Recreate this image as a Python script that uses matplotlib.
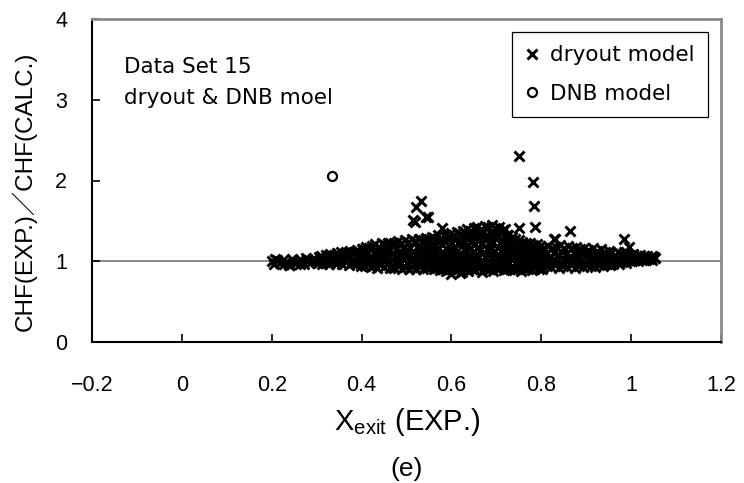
import matplotlib
matplotlib.use("Agg")
import matplotlib.pyplot as plt

plt.rcParams['font.family'] = ['Liberation Sans', 'Noto Sans CJK JP', 'DejaVu Sans']
plt.rcParams['mathtext.fontset'] = 'custom'
plt.rcParams['mathtext.rm'] = 'Liberation Sans'

# ---- data ----
dryout_x = (
    [0.200, 0.205, 0.208, 0.212, 0.218, 0.225, 0.228, 0.232, 0.238, 0.245, 0.252, 0.258, 0.262, 0.265, 0.272, 0.276, 0.280, 0.287, 0.293, 0.296, 0.300]
    + [0.305, 0.310, 0.315, 0.320, 0.325, 0.330, 0.335, 0.340, 0.345, 0.350, 0.355, 0.360, 0.365, 0.370, 0.375, 0.380, 0.385, 0.390, 0.395, 0.400]
    + [0.303, 0.312, 0.318, 0.327, 0.333, 0.342, 0.348, 0.357, 0.363, 0.372, 0.378, 0.387, 0.393, 0.398]
    + [0.308, 0.322, 0.338, 0.352, 0.368, 0.382, 0.396]
    + [0.403, 0.410, 0.417, 0.424, 0.431, 0.438, 0.445, 0.452, 0.459, 0.466]
    + [0.406, 0.413, 0.420, 0.427, 0.434, 0.441, 0.448, 0.455, 0.462, 0.469]
    + [0.404, 0.411, 0.418, 0.425, 0.432, 0.439, 0.446, 0.453, 0.460, 0.467]
    + [0.407, 0.414, 0.421, 0.428, 0.435, 0.442, 0.449, 0.456, 0.463, 0.470]
    + [0.472, 0.480, 0.488, 0.496, 0.504, 0.512, 0.520, 0.528, 0.536, 0.544, 0.550]
    + [0.476, 0.484, 0.492, 0.500, 0.508, 0.516, 0.524, 0.532, 0.540, 0.547, 0.553]
    + [0.474, 0.482, 0.490, 0.498, 0.506, 0.514, 0.522, 0.530, 0.538, 0.545, 0.551]
    + [0.478, 0.486, 0.494, 0.502, 0.510, 0.518, 0.526, 0.534, 0.542, 0.548, 0.554]
    + [0.473, 0.481, 0.489, 0.497, 0.505, 0.513, 0.521, 0.529, 0.537, 0.546, 0.552]
    + [0.556, 0.563, 0.570, 0.577, 0.584, 0.591, 0.598, 0.605, 0.612, 0.619]
    + [0.559, 0.566, 0.573, 0.580, 0.587, 0.594, 0.601, 0.608, 0.615, 0.622]
    + [0.557, 0.564, 0.571, 0.578, 0.585, 0.592, 0.599, 0.606, 0.613, 0.620]
    + [0.560, 0.567, 0.574, 0.581, 0.588, 0.595, 0.602, 0.609, 0.616, 0.623]
    + [0.558, 0.565, 0.572, 0.579, 0.586, 0.593, 0.600, 0.607, 0.614, 0.621]
    + [0.561, 0.568, 0.575, 0.582, 0.589, 0.596, 0.603, 0.610, 0.617, 0.624]
    + [0.626, 0.634, 0.642, 0.650, 0.658, 0.666, 0.674, 0.682, 0.690, 0.698, 0.706, 0.714, 0.720]
    + [0.630, 0.638, 0.646, 0.654, 0.662, 0.670, 0.678, 0.686, 0.694, 0.702, 0.710, 0.717, 0.723]
    + [0.628, 0.636, 0.644, 0.652, 0.660, 0.668, 0.676, 0.684, 0.692, 0.700, 0.708, 0.715, 0.721]
    + [0.632, 0.640, 0.648, 0.656, 0.664, 0.672, 0.680, 0.688, 0.696, 0.704, 0.712, 0.718, 0.724]
    + [0.627, 0.635, 0.643, 0.651, 0.659, 0.667, 0.675, 0.683, 0.691, 0.699, 0.707, 0.716, 0.722]
    + [0.631, 0.639, 0.647, 0.655, 0.663, 0.671, 0.679, 0.687, 0.695, 0.703, 0.711, 0.719, 0.725]
    + [0.629, 0.637, 0.645, 0.653, 0.661, 0.669, 0.677, 0.685, 0.693, 0.701, 0.709, 0.717, 0.723]
    + [0.726, 0.734, 0.742, 0.750, 0.758, 0.766, 0.774, 0.782, 0.790, 0.798]
    + [0.730, 0.738, 0.746, 0.754, 0.762, 0.770, 0.778, 0.786, 0.794, 0.802]
    + [0.728, 0.736, 0.744, 0.752, 0.760, 0.768, 0.776, 0.784, 0.792, 0.800]
    + [0.732, 0.740, 0.748, 0.756, 0.764, 0.772, 0.780, 0.788, 0.796, 0.803]
    + [0.727, 0.735, 0.743, 0.751, 0.759, 0.767, 0.775, 0.783, 0.791, 0.799]
    + [0.731, 0.739, 0.747, 0.755, 0.763, 0.771, 0.779, 0.787, 0.795, 0.801]
    + [0.806, 0.815, 0.824, 0.833, 0.842, 0.851, 0.860, 0.869, 0.878, 0.887, 0.896, 0.905, 0.914, 0.923, 0.932, 0.941, 0.950]
    + [0.810, 0.819, 0.828, 0.837, 0.846, 0.855, 0.864, 0.873, 0.882, 0.891, 0.900, 0.909, 0.918, 0.927, 0.936, 0.945, 0.953]
    + [0.808, 0.817, 0.826, 0.835, 0.844, 0.853, 0.862, 0.871, 0.880, 0.889, 0.898, 0.907, 0.916, 0.925, 0.934, 0.943, 0.951]
    + [0.812, 0.821, 0.830, 0.839, 0.848, 0.857, 0.866, 0.875, 0.884, 0.893, 0.902, 0.911, 0.920, 0.929, 0.938, 0.947, 0.954]
    + [0.956, 0.963, 0.970, 0.977, 0.984, 0.991, 0.998, 1.005, 1.012, 1.020, 1.028, 1.036, 1.044, 1.050]
    + [0.959, 0.966, 0.973, 0.980, 0.987, 0.994, 1.001, 1.008, 1.016, 1.024, 1.032, 1.040, 1.047, 1.052]
    + [0.960, 0.974, 0.988]
    + [0.750, 0.782, 0.784, 0.786, 0.751, 0.533, 0.521, 0.518, 0.547, 0.544, 0.515, 0.580,
       0.831, 0.864, 0.828, 0.984, 0.996, 1.047, 1.030, 0.240, 0.620, 0.600]
)
dryout_y = (
    [1.00, 0.97, 1.03, 1.02, 0.98, 1.01, 0.96, 0.99, 0.95, 1.03, 0.98, 1.00, 0.96, 1.02, 0.97, 1.04, 1.01, 0.99, 1.03, 1.00, 0.98]
    + [1.05, 1.07, 1.04, 1.08, 1.06, 1.09, 1.05, 1.07, 1.10, 1.06, 1.12, 1.08, 1.11, 1.09, 1.13, 1.10, 1.12, 1.14, 1.11, 1.15]
    + [0.98, 0.96, 0.99, 0.97, 1.00, 0.96, 0.99, 0.97, 1.00, 0.95, 0.98, 0.96, 0.99, 0.94]
    + [1.01, 1.02, 1.03, 1.01, 1.04, 1.02, 1.05]
    + [1.15, 1.18, 1.16, 1.19, 1.21, 1.18, 1.22, 1.20, 1.23, 1.21]
    + [1.08, 1.10, 1.07, 1.11, 1.09, 1.12, 1.08, 1.11, 1.13, 1.10]
    + [1.01, 0.99, 1.03, 1.00, 1.02, 0.98, 1.01, 1.03, 0.99, 1.02]
    + [0.94, 0.96, 0.93, 0.95, 0.92, 0.95, 0.93, 0.96, 0.92, 0.94]
    + [1.22, 1.25, 1.23, 1.26, 1.24, 1.27, 1.25, 1.28, 1.26, 1.29, 1.27]
    + [1.15, 1.13, 1.17, 1.14, 1.16, 1.12, 1.18, 1.15, 1.17, 1.14, 1.19]
    + [1.06, 1.08, 1.05, 1.09, 1.07, 1.04, 1.08, 1.06, 1.10, 1.07, 1.05]
    + [0.99, 0.97, 1.01, 0.98, 1.00, 0.96, 1.02, 0.99, 0.97, 1.01, 0.98]
    + [0.92, 0.94, 0.91, 0.93, 0.90, 0.93, 0.91, 0.94, 0.90, 0.92, 0.93]
    + [1.30, 1.28, 1.32, 1.29, 1.33, 1.31, 1.35, 1.32, 1.36, 1.34]
    + [1.22, 1.20, 1.24, 1.21, 1.25, 1.19, 1.23, 1.26, 1.22, 1.24]
    + [1.13, 1.10, 1.15, 1.12, 1.09, 1.14, 1.11, 1.16, 1.13, 1.10]
    + [1.04, 1.06, 1.02, 1.05, 1.03, 1.07, 1.01, 1.04, 1.06, 1.02]
    + [0.97, 0.95, 0.98, 0.94, 0.96, 0.99, 0.95, 0.97, 0.93, 0.96]
    + [0.90, 0.92, 0.89, 0.91, 0.88, 0.90, 0.92, 0.89, 0.91, 0.87]
    + [1.38, 1.40, 1.37, 1.41, 1.43, 1.40, 1.44, 1.42, 1.45, 1.41, 1.43, 1.39, 1.40]
    + [1.30, 1.33, 1.31, 1.34, 1.32, 1.35, 1.33, 1.36, 1.34, 1.32, 1.35, 1.31, 1.33]
    + [1.22, 1.20, 1.24, 1.21, 1.25, 1.23, 1.26, 1.22, 1.24, 1.27, 1.23, 1.25, 1.22]
    + [1.13, 1.15, 1.12, 1.16, 1.14, 1.11, 1.15, 1.17, 1.13, 1.16, 1.14, 1.12, 1.15]
    + [1.05, 1.03, 1.07, 1.04, 1.06, 1.02, 1.05, 1.08, 1.04, 1.06, 1.03, 1.07, 1.05]
    + [0.97, 0.99, 0.96, 0.98, 0.95, 0.99, 0.97, 0.96, 0.98, 0.95, 0.97, 0.99, 0.96]
    + [0.90, 0.88, 0.91, 0.89, 0.92, 0.87, 0.90, 0.91, 0.88, 0.90, 0.92, 0.89, 0.91]
    + [1.32, 1.30, 1.28, 1.26, 1.24, 1.23, 1.22, 1.20, 1.21, 1.19]
    + [1.22, 1.20, 1.18, 1.19, 1.16, 1.15, 1.17, 1.14, 1.13, 1.15]
    + [1.12, 1.10, 1.11, 1.09, 1.08, 1.10, 1.07, 1.09, 1.06, 1.08]
    + [1.03, 1.05, 1.02, 1.04, 1.01, 1.03, 1.00, 1.02, 1.04, 1.01]
    + [0.96, 0.94, 0.97, 0.95, 0.98, 0.94, 0.96, 0.93, 0.97, 0.95]
    + [0.90, 0.89, 0.91, 0.88, 0.90, 0.91, 0.89, 0.92, 0.90, 0.91]
    + [1.17, 1.19, 1.16, 1.18, 1.20, 1.17, 1.19, 1.16, 1.18, 1.15, 1.17, 1.14, 1.16, 1.13, 1.15, 1.12, 1.13]
    + [1.09, 1.07, 1.10, 1.08, 1.11, 1.09, 1.07, 1.10, 1.08, 1.09, 1.06, 1.08, 1.07, 1.05, 1.07, 1.06, 1.04]
    + [1.01, 0.99, 1.02, 1.00, 0.98, 1.01, 1.03, 0.99, 1.01, 1.00, 0.98, 1.02, 0.99, 1.01, 1.00, 0.98, 1.00]
    + [0.94, 0.93, 0.95, 0.92, 0.94, 0.93, 0.95, 0.92, 0.94, 0.93, 0.95, 0.94, 0.93, 0.95, 0.94, 0.96, 0.95]
    + [1.10, 1.08, 1.11, 1.09, 1.12, 1.10, 1.08, 1.09, 1.07, 1.08, 1.06, 1.07, 1.05, 1.05]
    + [1.02, 1.00, 1.03, 0.99, 1.01, 1.02, 1.00, 1.01, 1.00, 1.02, 1.01, 1.03, 1.02, 1.04]
    + [0.96, 0.97, 0.98]
    + [2.30, 1.98, 1.69, 1.42, 1.41, 1.74, 1.67, 1.49, 1.55, 1.55, 1.51, 1.41,
       1.28, 1.38, 1.27, 1.28, 1.18, 1.06, 1.03, 0.95, 0.85, 0.84]
)
dnb_x = [0.335]
dnb_y = [2.06]

x_ticks = [-0.2, 0, 0.2, 0.4, 0.6, 0.8, 1, 1.2]
x_tick_labels = ['−0.2', '0', '0.2', '0.4', '0.6', '0.8', '1', '1.2']
y_ticks = [0, 1, 2, 3, 4]
y_tick_labels = ['0', '1', '2', '3', '4']

assert len(dryout_x) == len(dryout_y)

W, H = 744, 483
fig = plt.figure(figsize=(W / 100, H / 100), dpi=100)
ax = fig.add_axes([92/W, 1 - 342/H, (721-92)/W, (342-19)/H])

ax.axhline(1.0, color='#6a6a6a', lw=1.1, zorder=1)
ax.plot(dryout_x, dryout_y, linestyle='none', marker='x', ms=7.5, mew=2.1,
        color='black', label='dryout model', zorder=3)
ax.plot(dnb_x, dnb_y, linestyle='none', marker='o', ms=6.5, mew=1.6,
        mfc='none', mec='black', label='DNB model', zorder=3)

ax.set_xlim(-0.2, 1.2)
ax.set_ylim(0, 4)
ax.set_xticks(x_ticks)
ax.set_xticklabels(x_tick_labels)
ax.set_yticks(y_ticks)
ax.set_yticklabels(y_tick_labels)
ax.tick_params(axis='x', direction='in', length=6, width=1.2, pad=24, labelsize=15.5)
ax.tick_params(axis='y', direction='in', length=6, width=1.2, pad=18, labelsize=15.5)

for s in ['left', 'bottom']:
    ax.spines[s].set_color('black')
    ax.spines[s].set_linewidth(1.5)
for s in ['top', 'right']:
    ax.spines[s].set_color('#8a8a8a')
    ax.spines[s].set_linewidth(2.0)

# axis titles
fig.text(24/W, 1 - 191/H, 'CHF(EXP.)／CHF(CALC.)', rotation=90,
         ha='center', va='center', fontsize=17.5)
fig.text(407/W, 1 - 430/H, r'X$_{\mathregular{exit}}$ (EXP.)', ha='center',
         va='baseline', fontsize=21)
fig.text(407/W, 1 - 476/H, '(e)', ha='center', va='baseline', fontsize=19)

note = ['DejaVu Sans']
fig.text(124/W, 1 - 73/H, 'Data Set 15', family=note, fontsize=15.5, va='baseline')
fig.text(124/W, 1 - 104/H, 'dryout & DNB moel', family=note, fontsize=15.5, va='baseline')

leg = ax.legend(loc='upper right', bbox_to_anchor=((708-92)/629, (342-32)/323),
                borderaxespad=0, fancybox=False, edgecolor='black', framealpha=1,
                prop={'family': note, 'size': 15.5},
                handlelength=0.65, handletextpad=0.5, borderpad=0.62, labelspacing=0.85)
leg.get_frame().set_linewidth(0.9)

fig.savefig('out.png', dpi=100)
